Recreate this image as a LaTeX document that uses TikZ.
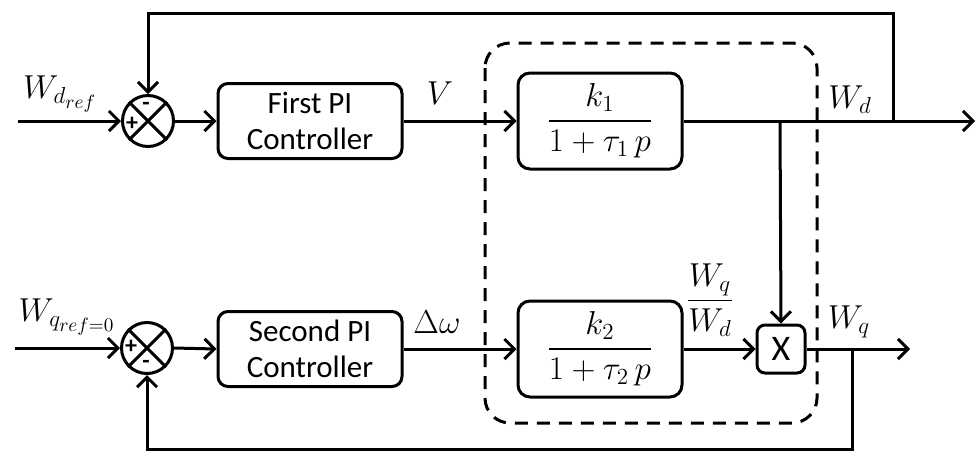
\documentclass[tikz,border=0pt]{standalone}
\usepackage{amsmath}
\usepackage{graphicx}
\usepackage{fontspec}
\setsansfont{Carlito}
\usetikzlibrary{arrows.meta,calc}
\newcommand{\bigmath}[1]{\scalebox{1.92}{\fontsize{17.28}{21}\selectfont$#1$}}
\begin{document}
\begin{tikzpicture}[x=1pt,y=-1pt,
  line width=3pt,
  blk/.style={draw, rounded corners=10pt, minimum width=184pt, minimum height=75pt, align=center, inner sep=0pt,
    font=\sffamily\fontsize{31}{36}\selectfont},
  tf/.style={draw, rounded corners=12pt, minimum width=164pt, minimum height=96pt, inner sep=0pt},
  mult/.style={draw, rounded corners=8pt, minimum width=48pt, minimum height=48pt, inner sep=0pt,
    font=\sffamily\fontsize{36}{40}\selectfont},
  sumc/.style={draw, circle, minimum size=51pt, inner sep=0pt},
  sgn/.style={inner sep=0pt, font=\sffamily\bfseries\fontsize{24}{26}\selectfont},
  arr/.style={-{Straight Barb[length=10pt,width=20pt]}},
  lab/.style={inner sep=0pt},
  dbox/.style={dash pattern=on 13pt off 9pt, rounded corners=25pt}
]
\useasboundingbox (0,0) rectangle (977,456);
% summing junctions
\node[sumc] (s1) at (148,121) {};
\draw (s1.north west) -- (s1.south east) (s1.north east) -- (s1.south west);
\node[sgn] (s1m) at (146,106) {-};
\node[sgn] (s1p) at (132,124) {+};
\node[sumc] (s2) at (147,348) {};
\draw (s2.north west) -- (s2.south east) (s2.north east) -- (s2.south west);
\node[sgn] (s2p) at (131,347) {+};
\node[sgn] (s2m) at (146,364) {-};
% blocks
\node[blk] (pi1) at (310,121) {First PI\\Controller};
\node[blk] (pi2) at (310,349) {Second PI\\Controller};
\node[tf] (g1) at (600,121) {\bigmath{\dfrac{k_1}{1+\tau_1\,p}}};
\node[tf] (g2) at (600,349) {\bigmath{\dfrac{k_2}{1+\tau_2\,p}}};
\node[mult] (m) at (781,349) {X};
% dashed frame
\draw[dbox] (485,43) rectangle (817,423);
% coordinates
\coordinate (in1) at (18,121);
\coordinate (in2) at (15,348);
\coordinate (j1) at (780,121);
\coordinate (j2) at (893,121);
\coordinate (t1) at (893,13);
\coordinate (out1) at (975,121);
\coordinate (j3) at (852,349);
\coordinate (b1) at (852,449);
\coordinate (out2) at (910,349);
% connectors
\draw[arr] (in1) -- (s1.west);
\draw[arr] (s1.east) -- (pi1.west);
\draw[arr] (pi1.east) -- (g1.west);
\draw (g1.east) -- (j1);
\draw[arr] (j1) -- (out1);
\draw[arr] (j1) -- (m.north);
\draw[arr] (j2) -- (t1) -| (s1.north);
\draw[arr] (in2) -- (s2.west);
\draw[arr] (s2.east) -- (pi2.west);
\draw[arr] (pi2.east) -- (g2.west);
\draw[arr] (g2.east) -- (m.west);
\draw[arr] (m.east) -- (out2);
\draw[arr] (j3) -- (b1) -| (s2.south);
% labels
\node[lab] (lwd) at (60,94) {\bigmath{W_{d_{ref}}}};
\node[lab] (lwq) at (67,317) {\bigmath{W_{q_{ref=0}}}};
\node[lab] (lv) at (440,93) {\bigmath{V}};
\node[lab] (ldw) at (437,322) {\bigmath{\Delta\omega}};
\node[lab] (lwdo) at (850,100) {\bigmath{W_d}};
\node[lab] (lfr) at (710,300) {\bigmath{\dfrac{W_q}{W_d}}};
\node[lab] (lwqo) at (849,322) {\bigmath{W_q}};
\end{tikzpicture}
\end{document}
